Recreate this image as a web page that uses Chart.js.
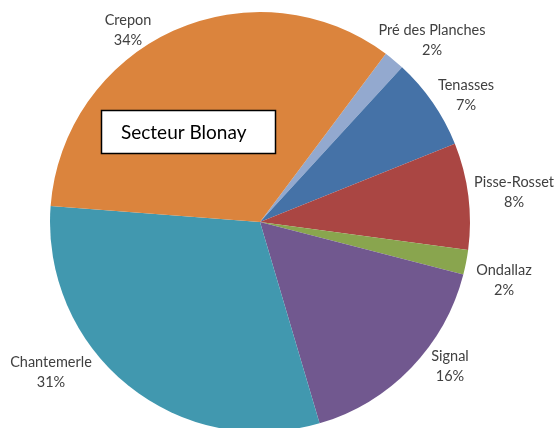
<!DOCTYPE html>
<html>
<head>
<meta charset="utf-8">
<script src="https://cdn.jsdelivr.net/npm/chart.js@4"></script>
<style>
  html, body { margin: 0; padding: 0; background: #fff; overflow: hidden; }
  #wrap { width: 555px; height: 428px; overflow: hidden; }
</style>
</head>
<body>
<div id="wrap"><canvas id="pie" width="555" height="440"></canvas></div>
<script>
// data (percent shares)
const sectors = ['Pré des Planches', 'Tenasses', 'Pisse-Rosset', 'Ondallaz', 'Signal', 'Chantemerle', 'Crepon'];
const shares = [1.6, 7.1, 8.2, 1.9, 16.4, 30.8, 34.0];
const colors = ['#93A9CF', '#4572A7', '#AA4643', '#89A54E', '#71588F', '#4198AF', '#DB843D'];
const chartTitle = 'Secteur Blonay';

// where each data label sits (text centre of the first line)
const labelPos = [
  [432, 30], [466, 85], [514, 182], [504, 270], [450, 356], [51, 362], [128, 20]
];

const labelFont = '14.5px Lato, "Open Sans", sans-serif';

const pieLabels = {
  id: 'pieLabels',
  afterDatasetsDraw(chart) {
    const ctx = chart.ctx;
    const data = chart.data.datasets[0].data;
    const total = data.reduce((a, b) => a + b, 0);
    ctx.save();
    ctx.font = labelFont;
    ctx.fillStyle = '#404040';
    ctx.textAlign = 'center';
    ctx.textBaseline = 'middle';
    chart.data.labels.forEach((name, i) => {
      const [x, y] = labelPos[i];
      ctx.fillText(name, x, y);
      ctx.fillText(Math.round(data[i] / total * 100) + '%', x, y + 20);
    });

    // title box
    ctx.fillStyle = '#fff';
    ctx.fillRect(101, 110, 175, 44);
    ctx.strokeStyle = '#000';
    ctx.lineWidth = 1.5;
    ctx.strokeRect(101.5, 110.5, 174, 43);
    ctx.fillStyle = '#000';
    ctx.textAlign = 'left';
    ctx.font = '19px Lato, "Open Sans", sans-serif';
    ctx.fillText(chartTitle, 121, 133);
    ctx.restore();
  }
};

new Chart(document.getElementById('pie'), {
  type: 'pie',
  data: {
    labels: sectors,
    datasets: [{ data: shares, backgroundColor: colors, borderWidth: 0 }]
  },
  options: {
    responsive: false,
    devicePixelRatio: 1,
    animation: false,
    rotation: 36.8,
    layout: { padding: { left: 50, right: 85, top: 12, bottom: 8 } },
    plugins: { legend: { display: false }, tooltip: { enabled: false }, title: { display: false } }
  },
  plugins: [pieLabels]
});
</script>
</body>
</html>
